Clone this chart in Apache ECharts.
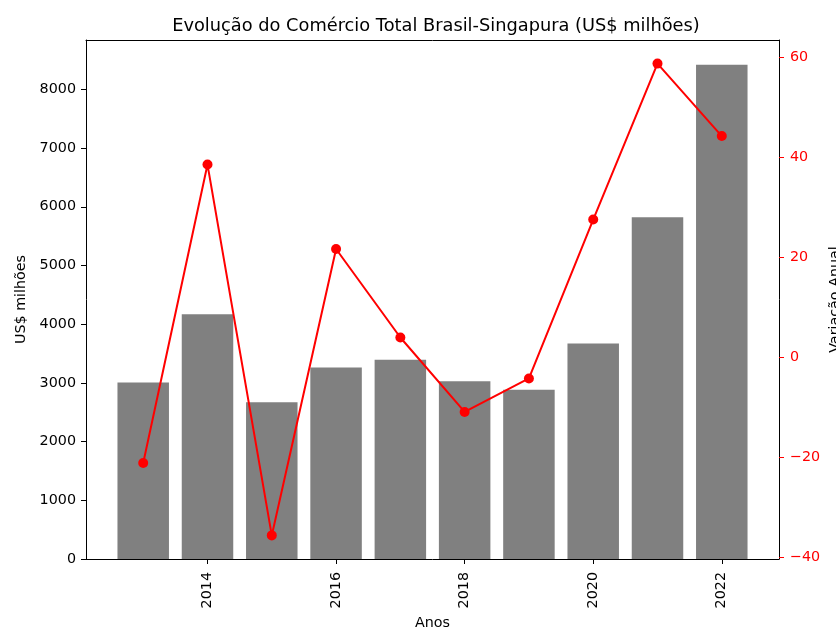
<!DOCTYPE html>
<html>
<head>
<meta charset="utf-8">
<script src="https://cdn.jsdelivr.net/npm/echarts@6/dist/echarts.min.js"></script>
<style>html,body{margin:0;padding:0;background:#fff}#c{width:836px;height:628px}</style>
</head>
<body>
<div id="c"></div>
<script>
const years = [2013, 2014, 2015, 2016, 2017, 2018, 2019, 2020, 2021, 2022];
const comercio = [3008, 4170, 2672, 3263, 3393, 3030, 2882, 3671, 5821, 8420];
const variacao = [-21.2, 38.5, -35.7, 21.6, 3.9, -11.0, -4.3, 27.5, 58.7, 44.2];
const xTicks = [2014, 2016, 2018, 2020, 2022];
const leftTicks = [0, 1000, 2000, 3000, 4000, 5000, 6000, 7000, 8000];
const rightTicks = [-40, -20, 0, 20, 40, 60];

const FONT = 'DejaVu Sans';
const FS = 14.3;
const chart = echarts.init(document.getElementById('c'), null, {renderer: 'canvas'});
chart.setOption({
  animation: false,
  backgroundColor: '#fff',
  textStyle: {fontFamily: FONT},
  title: {
    text: 'Evolução do Comércio Total Brasil-Singapura (US$ milhões)',
    left: 431, top: 12, textAlign: 'center',
    textStyle: {fontFamily: FONT, fontSize: 17.8, fontWeight: 'normal', color: '#000'}
  },
  grid: {left: 86, right: 57, top: 40, bottom: 69, containLabel: false, outerBoundsMode: 'none'},
  xAxis: [{
    type: 'value', min: 2012.11, max: 2022.89, position: 'bottom',
    name: 'Anos', nameLocation: 'middle', nameGap: 55,
    nameTextStyle: {fontFamily: FONT, fontSize: FS, color: '#000'},
    axisLine: {show: true, onZero: false, lineStyle: {color: '#000', width: 1}},
    axisTick: {show: true, customValues: xTicks, length: 5, lineStyle: {color: '#000'}},
    axisLabel: {customValues: xTicks, rotate: 90, margin: 13, fontFamily: FONT, fontSize: FS, color: '#000',
      formatter: v => String(Math.round(v))},
    splitLine: {show: false}
  }, {
    type: 'value', min: 2012.11, max: 2022.89, position: 'top',
    axisLine: {show: true, onZero: false, lineStyle: {color: '#000', width: 1}},
    axisTick: {show: false}, axisLabel: {show: false}, splitLine: {show: false}
  }],
  yAxis: [{
    type: 'value', min: 0, max: 8841, position: 'left',
    name: 'US$ milhões', nameLocation: 'middle', nameGap: 56, nameRotate: 90,
    nameTextStyle: {fontFamily: FONT, fontSize: FS, color: '#000'},
    axisLine: {show: true, onZero: false, lineStyle: {color: '#000', width: 1}},
    axisTick: {show: true, customValues: leftTicks, length: 5, lineStyle: {color: '#000'}},
    axisLabel: {customValues: leftTicks, margin: 10, fontFamily: FONT, fontSize: FS, color: '#000',
      formatter: v => String(Math.round(v))},
    splitLine: {show: false}
  }, {
    type: 'value', min: -40.42, max: 63.42, position: 'right',
    name: 'Variação Anual', nameLocation: 'middle', nameGap: 49, nameRotate: 90, nameMoveOverlap: false,
    nameTextStyle: {fontFamily: FONT, fontSize: FS, color: '#000'},
    axisLine: {show: true, onZero: false, lineStyle: {color: '#000', width: 1}},
    axisTick: {show: true, customValues: rightTicks, length: 5, lineStyle: {color: 'red'}},
    axisLabel: {customValues: rightTicks, margin: 11, fontFamily: FONT, fontSize: FS, color: 'red',
      formatter: v => String(Math.round(v)).replace('-', '\u2212')},
    splitLine: {show: false}
  }],
  series: [{
    type: 'bar', xAxisIndex: 0, yAxisIndex: 0,
    data: years.map((y, i) => [y, comercio[i]]),
    barWidth: 51.5,
    itemStyle: {color: '#808080'}
  }, {
    type: 'line', xAxisIndex: 0, yAxisIndex: 1,
    data: years.map((y, i) => [y, variacao[i]]),
    lineStyle: {color: 'red', width: 2},
    itemStyle: {color: 'red'},
    symbol: 'circle', symbolSize: 10, showSymbol: true
  }]
});
</script>
</body>
</html>
